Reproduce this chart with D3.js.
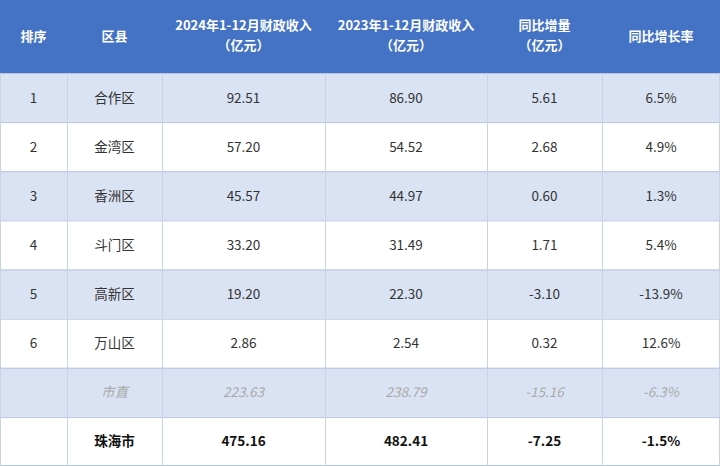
<!DOCTYPE html>
<html><head><meta charset="utf-8">
<script src="https://cdn.jsdelivr.net/npm/d3@7"></script>
<style>body{margin:0;background:#fff}</style></head>
<body><svg id="c" width="720" height="466"></svg>
<script>
const headers=[["排序"],["区县"],["2024年1-12月财政收入","（亿元）"],["2023年1-12月财政收入","（亿元）"],["同比增量","（亿元）"],["同比增长率"]];
const ranks=["1","2","3","4","5","6","",""];
const districts=["合作区","金湾区","香洲区","斗门区","高新区","万山区","市直","珠海市"];
const rev2024=["92.51","57.20","45.57","33.20","19.20","2.86","223.63","475.16"];
const rev2023=["86.90","54.52","44.97","31.49","22.30","2.54","238.79","482.41"];
const diff=["5.61","2.68","0.60","1.71","-3.10","0.32","-15.16","-7.25"];
const rate=["6.5%","4.9%","1.3%","5.4%","-13.9%","12.6%","-6.3%","-1.5%"];
const colEdges=[0,67,162,325,487,602,720];
const svg=d3.select("#c");
const font="'Noto Sans CJK SC','Noto Sans',sans-serif";
const y=d3.scaleBand().domain(d3.range(8)).range([73,466]);
const cx=i=>(colEdges[i]+colEdges[i+1])/2;
svg.append("rect").attr("width",720).attr("height",73).attr("fill","#4472c4");
headers.forEach((h,i)=>{
  const t=svg.append("text").attr("x",cx(i)).attr("font-family",font).attr("font-size",13).attr("font-weight","bold").attr("fill","#fff").attr("text-anchor","middle");
  const y0=h.length===1?41:30;
  h.forEach((s,k)=>t.append("tspan").attr("x",cx(i)).attr("y",y0+k*20).text(s));
});
const rows=d3.range(8).map(r=>[ranks[r],districts[r],rev2024[r],rev2023[r],diff[r],rate[r]]);
rows.forEach((row,r)=>{
  svg.append("rect").attr("x",0).attr("y",y(r)).attr("width",720).attr("height",y.bandwidth()).attr("fill",r%2===0?"#dae3f3":"#fff");
});
rows.forEach((row,r)=>{
  svg.append("line").attr("x1",0).attr("x2",720).attr("y1",y(r)+0.5).attr("y2",y(r)+0.5).attr("stroke","#b4c3de");
});
svg.append("line").attr("x1",0).attr("x2",720).attr("y1",465.5).attr("y2",465.5).attr("stroke","#b4c3de");
colEdges.slice(1,6).forEach(e=>svg.append("line").attr("x1",e+0.5).attr("x2",e+0.5).attr("y1",73).attr("y2",466).attr("stroke","#c9d3e6"));
svg.append("line").attr("x1",0.5).attr("x2",0.5).attr("y1",73).attr("y2",466).attr("stroke","#c9d3e6");
svg.append("line").attr("x1",719.5).attr("x2",719.5).attr("y1",73).attr("y2",466).attr("stroke","#c9d3e6");
rows.forEach((row,r)=>{
  row.forEach((v,i)=>{
    const t=svg.append("text").attr("x",cx(i)).attr("y",y(r)+y.bandwidth()/2+5).attr("text-anchor","middle")
      .attr("font-family",font).attr("font-size",13.5).text(v);
    if(r===6) t.attr("fill","#a9a9a9").attr("font-style","italic");
    else if(r===7) t.attr("fill","#111").attr("font-weight","bold");
    else t.attr("fill","#333");
  });
});
</script></body></html>
